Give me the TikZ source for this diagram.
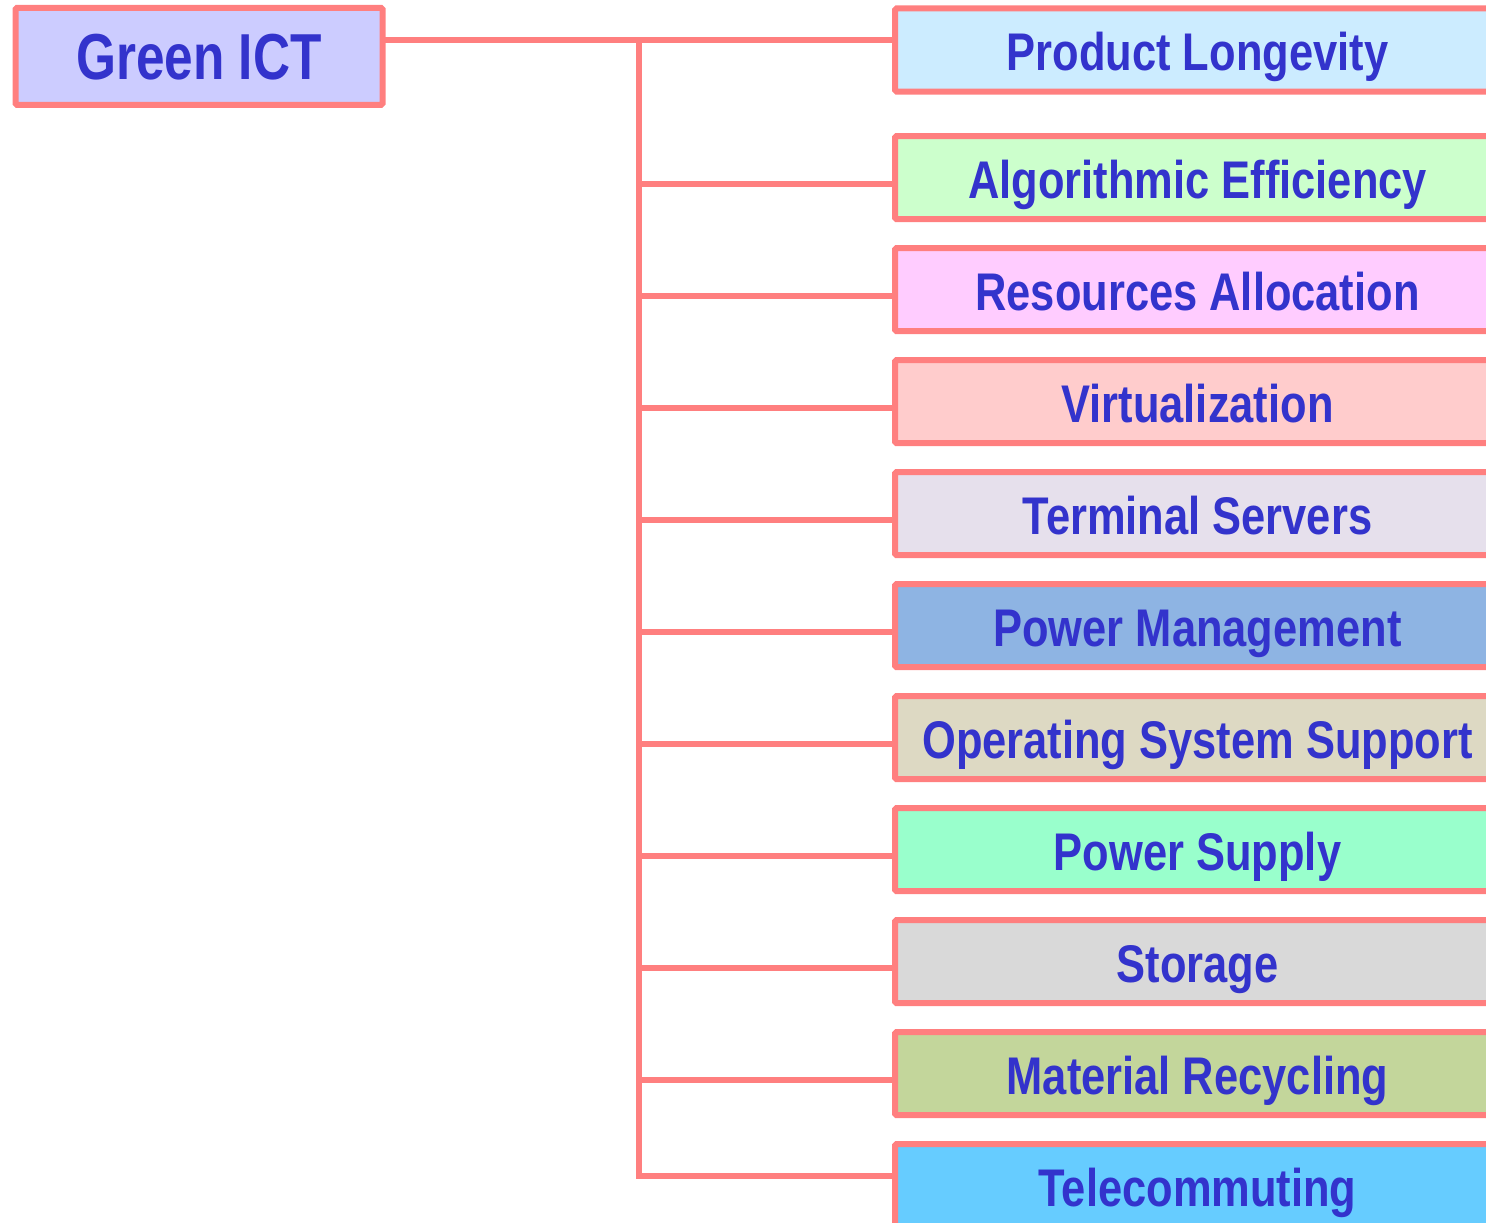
\documentclass[tikz,border=0pt]{standalone}
\usepackage{fontspec}
\setmainfont[FakeStretch=0.82]{Liberation Sans}
\newfontfamily\rootfont[FakeStretch=0.79]{Liberation Sans}
\definecolor{edge}{HTML}{FF7F7F}
\definecolor{txt}{HTML}{3333CC}
\definecolor{cRoot}{HTML}{CCCCFF}
\definecolor{cA}{HTML}{CCECFF}
\definecolor{cB}{HTML}{CCFFCC}
\definecolor{cC}{HTML}{FFCCFF}
\definecolor{cD}{HTML}{FFCCCC}
\definecolor{cE}{HTML}{E6E0EC}
\definecolor{cF}{HTML}{8EB4E3}
\definecolor{cG}{HTML}{DDD9C3}
\definecolor{cH}{HTML}{99FFCC}
\definecolor{cI}{HTML}{D9D9D9}
\definecolor{cJ}{HTML}{C3D69B}
\definecolor{cK}{HTML}{66CCFF}
\tikzset{
  rootbox/.style={draw=edge, line width=6pt, rounded corners=1.5pt, minimum width=367pt, minimum height=97pt, inner sep=0pt, outer sep=0pt, text height=52pt, text depth=5pt, text=txt, font=\rootfont\fontsize{65}{70}\selectfont\bfseries},
  leafbox/.style={draw=edge, line width=6pt, rounded corners=1.5pt, minimum width=605pt, minimum height=83pt, inner sep=0pt, outer sep=0pt, text height=46pt, text depth=5pt, text=txt, font=\fontsize{53}{58}\selectfont\bfseries, anchor=west},
  link/.style={draw=edge, line width=6pt}
}
\begin{document}
\begin{tikzpicture}[x=1pt,y=-1pt]
\useasboundingbox (0,0) rectangle (1486,1223);
\clip (0,0) rectangle (1486,1223);
\node[rootbox, fill=cRoot] (root) at (199,56.3) {Green ICT};
\node[leafbox, fill=cA] (n1) at (895,50) {Product Longevity};
\node[leafbox, fill=cB] (n2) at (895,177.6) {Algorithmic Efficiency};
\node[leafbox, fill=cC] (n3) at (895,289.6) {Resources Allocation};
\node[leafbox, fill=cD] (n4) at (895,401.6) {Virtualization};
\node[leafbox, fill=cE] (n5) at (895,513.6) {Terminal Servers};
\node[leafbox, fill=cF] (n6) at (895,625.6) {Power Management};
\node[leafbox, fill=cG] (n7) at (895,737.6) {Operating System Support};
\node[leafbox, fill=cH] (n8) at (895,849.6) {Power Supply};
\node[leafbox, fill=cI] (n9) at (895,961.6) {Storage};
\node[leafbox, fill=cJ] (n10) at (895,1073.6) {Material Recycling};
\node[leafbox, fill=cK] (n11) at (895,1185.6) {Telecommuting};
\coordinate (top) at (639,40);
\coordinate (bot) at (639,1176);
\draw[link] (root.east |- top) -- (n1.west |- top);
\draw[link] (top) -- (bot);
\foreach \n/\y in {n2/184,n3/296,n4/408,n5/520,n6/632,n7/744,n8/856,n9/968,n10/1080}{
  \draw[link] (639,\y) -- (\n.west |- 0,\y);
}
\draw[link, line cap=rect] (bot) -- (n11.west |- bot);
\end{tikzpicture}
\end{document}
